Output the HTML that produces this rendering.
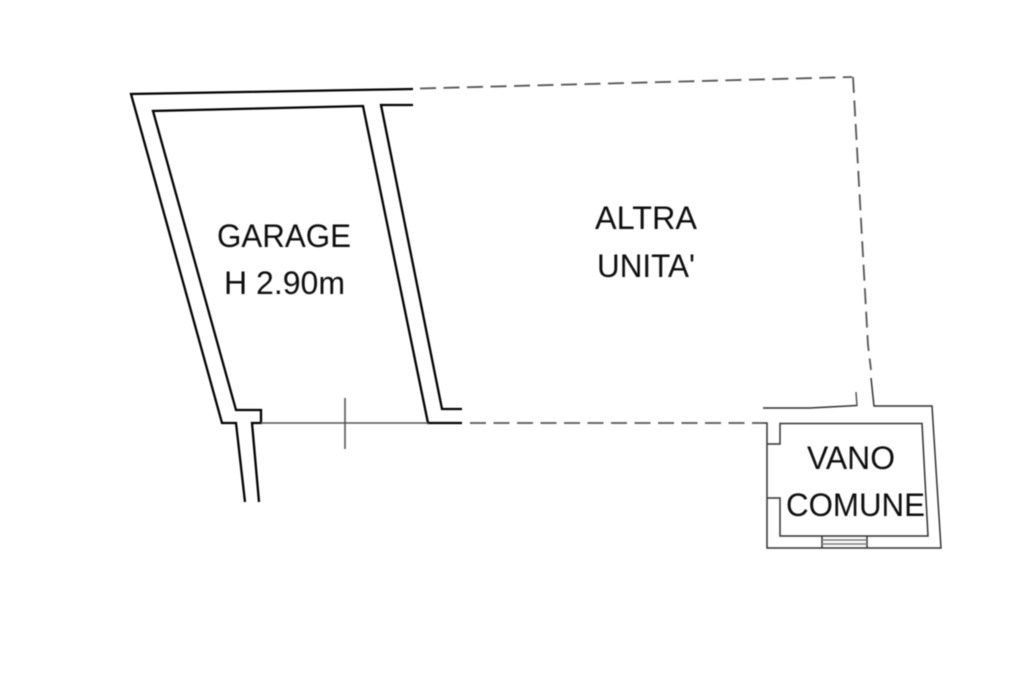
<!DOCTYPE html>
<html><head><meta charset="utf-8"><style>
html,body{margin:0;padding:0;background:#fff}
svg{display:block}
text{font-family:"Liberation Sans",Arial,sans-serif;font-size:32px;fill:#111}
</style></head><body>
<svg width="1024" height="683" viewBox="0 0 1024 683" xmlns="http://www.w3.org/2000/svg">
<defs><filter id="s" filterUnits="userSpaceOnUse" x="0" y="0" width="1024" height="683"><feGaussianBlur stdDeviation="0.4"/></filter></defs>
<rect width="1024" height="683" fill="#fff"/>
<g filter="url(#s)">
<g fill="none" stroke-linejoin="miter">
<g stroke="#000" stroke-width="2.3">
<polyline points="413,89 131,94 222,423 236,423 245,502"/>
<polyline points="259,502 252,423 261,423 261,410 236,410 153,111 363,106 428,423 462,423"/>
<polyline points="413,105 381,105 442,409 462,409"/>
</g>
<g stroke="#555" stroke-width="1.6">
<line x1="261" y1="423" x2="428" y2="423"/>
<line x1="345" y1="398" x2="345" y2="449"/>
</g>
<g stroke="#555" stroke-width="1.8" stroke-dasharray="16 7.5">
<polyline points="420,88.5 852,77"/>
<polyline points="470,423 762,423"/>
<polyline points="853,77 868,345 871,370"/>
</g>
<g stroke="#333" stroke-width="1.5">
<line x1="857" y1="406" x2="856" y2="392" stroke="#555"/>
<polyline points="763,408 810,408 857,405.5"/>
<polyline points="871,378 874,406 932,406 941,548 767,548 767,423 762,423"/>
<polyline points="767,444 780,444 780,423.5 922,423.5 928,536 780,536 780,498 767,498"/>
<line x1="822" y1="536" x2="822" y2="548"/>
<line x1="867" y1="536" x2="867" y2="548"/>
<line x1="822" y1="540" x2="867" y2="540" stroke="#777"/>
<line x1="822" y1="544" x2="867" y2="544" stroke="#777"/>
</g>
</g>
<text x="217" y="247" textLength="134" lengthAdjust="spacingAndGlyphs">GARAGE</text>
<text x="224" y="294" textLength="121" lengthAdjust="spacingAndGlyphs">H 2.90m</text>
<text x="595" y="229" textLength="102" lengthAdjust="spacingAndGlyphs">ALTRA</text>
<text x="597" y="277" textLength="98" lengthAdjust="spacingAndGlyphs">UNITA'</text>
<text x="807" y="469" textLength="88" lengthAdjust="spacingAndGlyphs">VANO</text>
<text x="786" y="516" textLength="139" lengthAdjust="spacingAndGlyphs">COMUNE</text>
</g>
</svg>
</body></html>
